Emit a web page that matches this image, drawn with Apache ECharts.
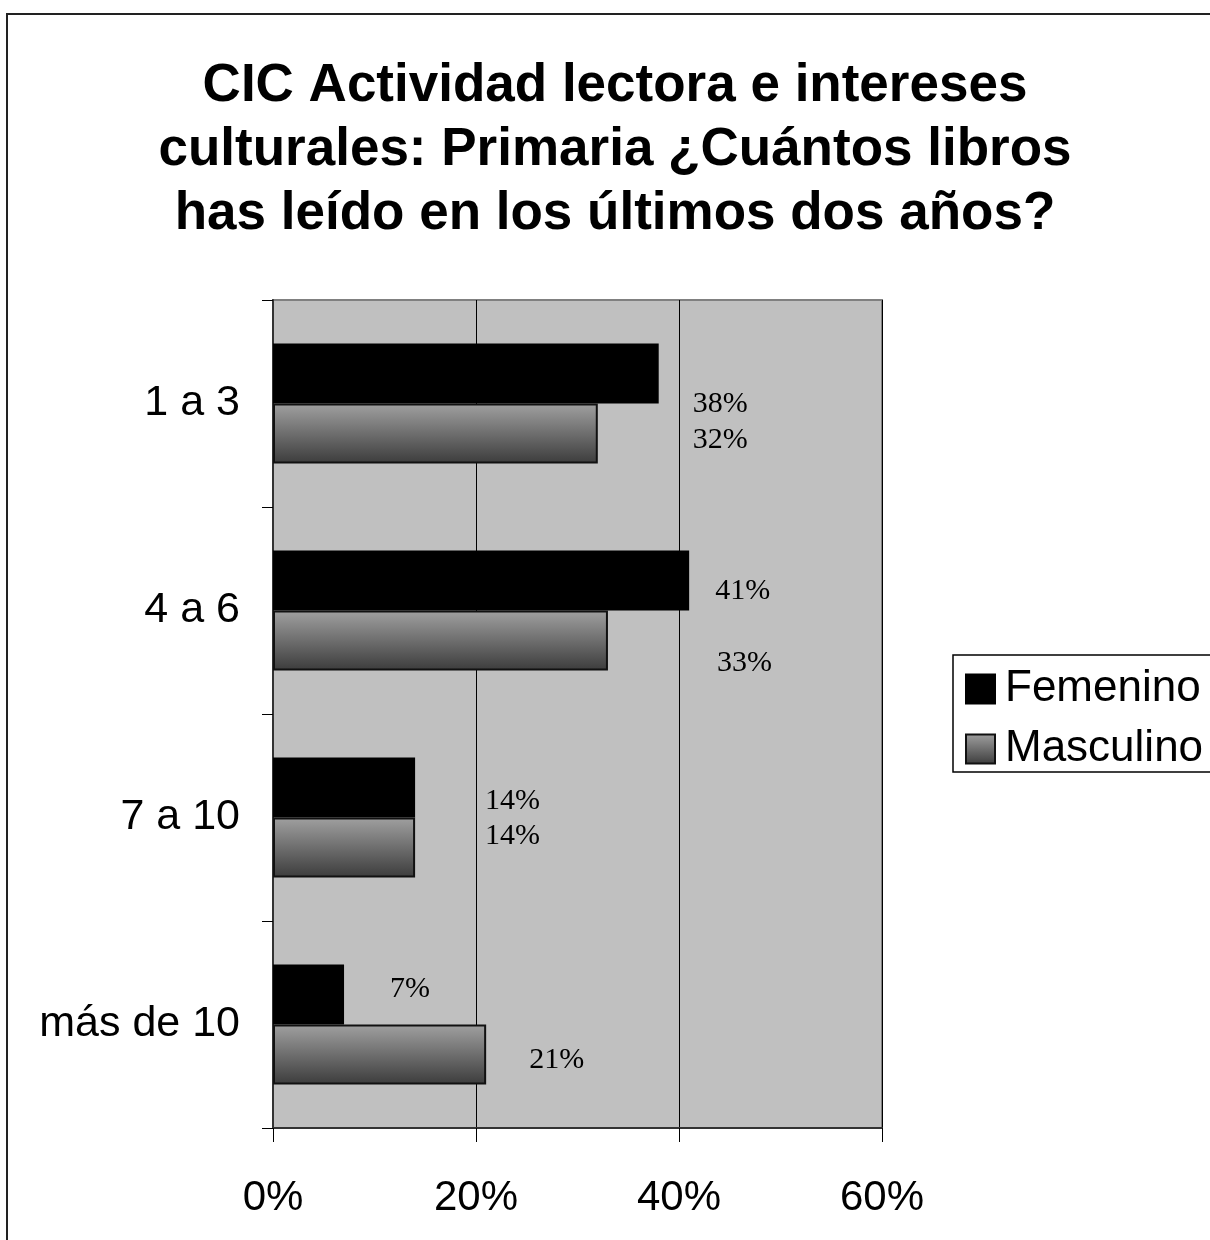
<!DOCTYPE html>
<html>
<head>
<meta charset="utf-8">
<script src="https://cdn.jsdelivr.net/npm/echarts@6/dist/echarts.min.js"></script>
<style>
html,body{margin:0;padding:0;background:#fff;}
#chart{width:1210px;height:1240px;}
</style>
</head>
<body>
<div id="chart"></div>
<script>
var titleText = 'CIC Actividad lectora e intereses\nculturales: Primaria ¿Cuántos libros\nhas leído en los últimos dos años?';
var categories = ['1 a 3', '4 a 6', '7 a 10', 'más de 10'];
var seriesNames = ['Femenino', 'Masculino'];
var femenino = [38, 41, 14, 7];
var masculino = [32, 33, 14, 21];
var xTicks = [0, 20, 40, 60];
// label offsets (manually placed labels, as in the original)
var femLabelOffset = [[29, 31], [21, 11], [65, 14], [41, -5]];
var masLabelOffset = [[90, 7], [104, 23], [65, -11], [38, 6]];

var chart = echarts.init(document.getElementById('chart'));

function buildData(vals, offs) {
  return vals.map(function (v, i) {
    return { value: v, label: { offset: offs[i] } };
  });
}

var labelStyle = {
  show: true,
  position: 'right',
  distance: 5,
  fontFamily: '"Liberation Serif", "Times New Roman", serif',
  fontSize: 30,
  color: '#000',
  formatter: '{c}%'
};

var option = {
  animation: false,
  backgroundColor: '#fff',
  graphic: [
    {
      type: 'rect', z: -10, silent: true,
      shape: { x: 7, y: 14, width: 1400, height: 1400 },
      style: { fill: 'none', stroke: '#222', lineWidth: 2 }
    },
    {
      type: 'text', silent: true,
      style: {
        text: titleText, x: 615, y: 54,
        textAlign: 'center',
        font: 'bold 53px "Liberation Sans", Arial, sans-serif',
        lineHeight: 64, fill: '#000'
      }
    }
  ],
  legend: {
    orient: 'vertical',
    left: 953, top: 655,
    data: seriesNames.map(function (n) { return { name: n, icon: 'rect' }; }),
    itemWidth: 29, itemHeight: 29,
    itemGap: 16,
    padding: [12, 20, 1, 12],
    borderColor: '#000', borderWidth: 1.5,
    backgroundColor: '#fff',
    textStyle: { fontFamily: '"Liberation Sans", Arial, sans-serif', fontSize: 44, color: '#000', lineHeight: 36, padding: [0, 0, 0, 5] }
  },
  grid: {
    left: 273, top: 300, width: 609, height: 828,
    show: true, backgroundColor: '#c0c0c0', borderColor: '#808080', borderWidth: 2,
    containLabel: false
  },
  xAxis: {
    type: 'value', min: xTicks[0], max: xTicks[xTicks.length - 1], interval: 20,
    axisLine: { show: true, lineStyle: { color: '#333', width: 2 } },
    axisTick: { show: true, inside: false, length: 14, lineStyle: { color: '#000' } },
    splitLine: { show: true, lineStyle: { color: '#000', width: 1 } },
    axisLabel: {
      formatter: '{value}%', margin: 49,
      fontFamily: '"Liberation Sans", Arial, sans-serif', fontSize: 42, color: '#000'
    }
  },
  yAxis: {
    type: 'category', data: categories, inverse: true,
    axisLine: { show: true, lineStyle: { color: '#333', width: 2 } },
    axisTick: { show: true, inside: false, length: 11, lineStyle: { color: '#000' } },
    axisLabel: {
      margin: 33,
      fontFamily: '"Liberation Sans", Arial, sans-serif', fontSize: 43, color: '#000'
    }
  },
  series: [
    {
      name: seriesNames[0], type: 'bar',
      data: buildData(femenino, femLabelOffset),
      barCategoryGap: '42%', barGap: '0%',
      itemStyle: { color: '#000', borderColor: '#000', borderWidth: 1.5 },
      label: labelStyle
    },
    {
      name: seriesNames[1], type: 'bar',
      data: buildData(masculino, masLabelOffset),
      barCategoryGap: '42%', barGap: '0%',
      itemStyle: {
        color: new echarts.graphic.LinearGradient(0, 0, 0, 1, [
          { offset: 0, color: '#a0a0a0' },
          { offset: 1, color: '#3c3c3c' }
        ]),
        borderColor: '#111', borderWidth: 2
      },
      label: labelStyle
    }
  ]
};
chart.setOption(option);
</script>
</body>
</html>
